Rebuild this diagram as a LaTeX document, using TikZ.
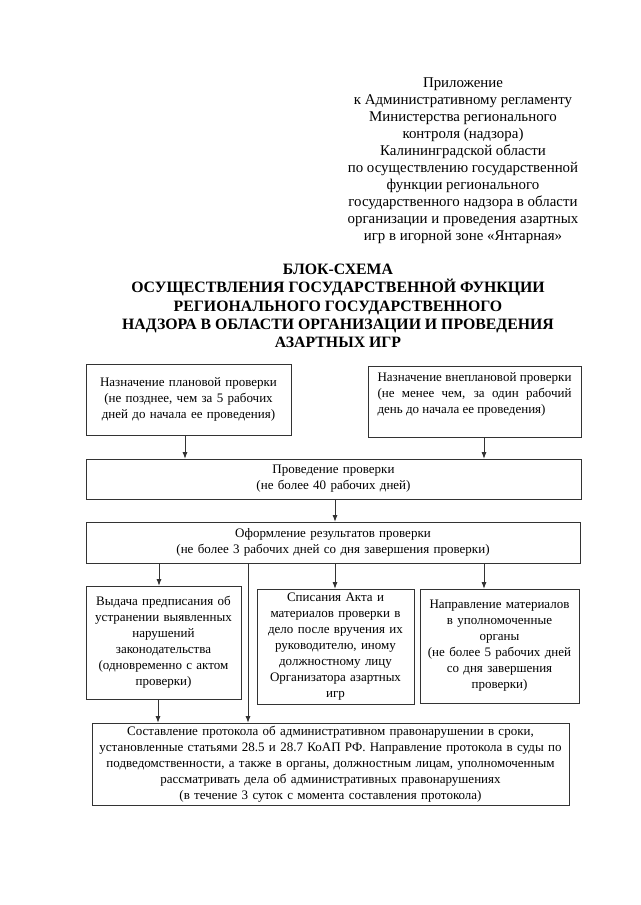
\documentclass[tikz,border=0pt]{standalone}
\usepackage{fontspec}
\setmainfont{Liberation Serif}
\usetikzlibrary{arrows.meta}

\tikzset{
  blk/.style={draw=black!80, line width=0.75pt, inner sep=2pt, align=center,
    font=\fontsize{13}{16}\selectfont},
  arr/.style={draw=black!80, line width=0.75pt, -{Latex[length=6.5pt,width=5pt]}},
}

\begin{document}
\begin{tikzpicture}[x=1pt,y=-1pt]
  \useasboundingbox (0,0) rectangle (640,905);

  %% header, top right
  \node (appx) at (463,161) [align=center, font=\fontsize{14.9}{17}\selectfont]
  {Приложение\\ к Административному регламенту\\ Министерства регионального\\
    контроля (надзора)\\ Калининградской области\\ по осуществлению государственной\\
    функции регионального\\ государственного надзора в области\\
    организации и проведения азартных\\ игр в игорной зоне «Янтарная»};

  \node (title) at (338,306) [align=center, font=\bfseries\fontsize{15.8}{18.3}\selectfont]
  {БЛОК-СХЕМА\\ ОСУЩЕСТВЛЕНИЯ ГОСУДАРСТВЕННОЙ ФУНКЦИИ\\
    РЕГИОНАЛЬНОГО ГОСУДАРСТВЕННОГО\\ НАДЗОРА В ОБЛАСТИ ОРГАНИЗАЦИИ И ПРОВЕДЕНИЯ\\
    АЗАРТНЫХ ИГР};

  %% boxes
  \node[blk, minimum width=205pt, minimum height=71pt, text width=197pt] (plan) at (188.5,399.5)
  {Назначение плановой проверки\\ (не позднее, чем за 5 рабочих\\ дней до начала ее проведения)};
  \node[blk, minimum width=213pt, minimum height=71pt] (unplan) at (474.5,401.5)
  {\parbox[c][58pt][t]{194pt}{\makebox[194pt][s]{Назначение внеплановой проверки}\\
      \makebox[194pt][s]{(не менее чем, за один рабочий}\\ день до начала ее проведения)}};
  \node[blk, minimum width=495pt, minimum height=40pt, text width=485pt] (exec) at (333.5,479)
  {Проведение проверки\\ (не более 40 рабочих дней)};
  \node[blk, minimum width=494pt, minimum height=41pt, text width=485pt] (result) at (333,542.5)
  {Оформление результатов проверки\\ (не более 3 рабочих дней со дня завершения проверки)};

  \node[blk, minimum width=155pt, minimum height=113pt, text width=149pt] (order) at (163.5,642.5)
  {Выдача предписания об\\ устранении выявленных\\ нарушений\\ законодательства\\
    (одновременно с актом\\ проверки)};
  \node[blk, minimum width=157pt, minimum height=115pt, text width=151pt] (file) at (335.5,646.5)
  {Списания Акта и\\ материалов проверки в\\ дело после вручения их\\ руководителю, иному\\
    должностному лицу\\ Организатора азартных\\ игр};
  \node[blk, minimum width=159pt, minimum height=114pt, text width=153pt] (send) at (499.5,646)
  {Направление материалов\\ в уполномоченные\\ органы\\ (не более 5 рабочих дней\\
    со дня завершения\\ проверки)};

  \node[blk, minimum width=477pt, minimum height=82pt, text width=472pt] (protocol) at (330.5,764)
  {Составление протокола об административном правонарушении в сроки,\\
    установленные статьями 28.5 и 28.7 КоАП РФ. Направление протокола в суды по\\
    подведомственности, а также в органы, должностным лицам, уполномоченным\\
    рассматривать дела об административных правонарушениях\\
    (в течение 3 суток с момента составления протокола)};

  %% arrows
  \draw[arr] ([xshift=-3.5pt]plan.south) -- ([xshift=-3.5pt]plan.south |- exec.north);
  \draw[arr] ([xshift=9.5pt]unplan.south) -- ([xshift=9.5pt]unplan.south |- exec.north);
  \draw[arr] ([xshift=1.5pt]exec.south) -- ([xshift=1.5pt]exec.south |- result.north);
  \draw[arr] ([xshift=-174pt]result.south) -- ([xshift=-174pt]result.south |- order.north);
  \draw[arr] ([xshift=-85pt]result.south) -- ([xshift=-85pt]result.south |- protocol.north);
  \draw[arr] ([xshift=2pt]result.south) -- ([xshift=2pt]result.south |- file.north);
  \draw[arr] ([xshift=151pt]result.south) -- ([xshift=151pt]result.south |- send.north);
  \draw[arr] ([xshift=-5.5pt]order.south) -- ([xshift=-5.5pt]order.south |- protocol.north);
\end{tikzpicture}
\end{document}
